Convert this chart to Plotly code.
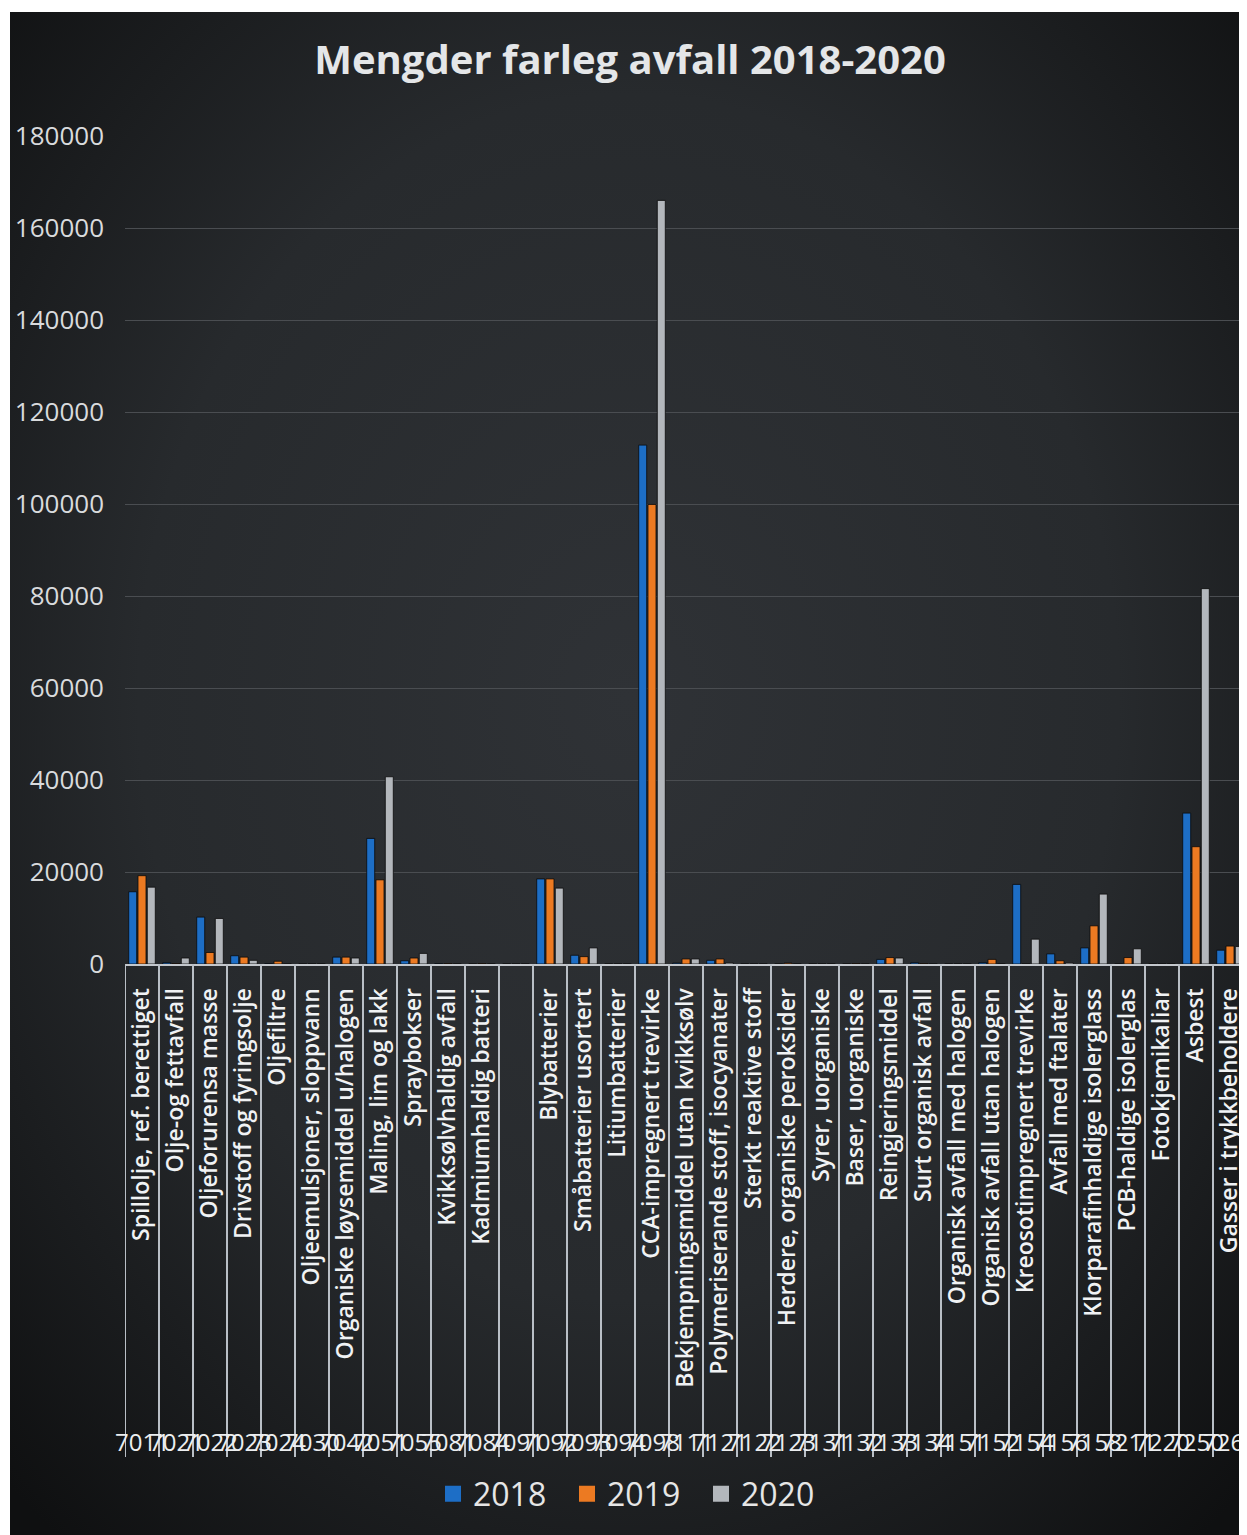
import base64
import plotly.graph_objects as go

# ---------------- data ----------------
codes = ["7011", "7021", "7022", "7023", "7024", "7030", "7042", "7051", "7055",
         "7081", "7084", "7091", "7092", "7093", "7094", "7098", "7111", "7121",
         "7122", "7123", "7131", "7132", "7133", "7134", "7151", "7152", "7154",
         "7156", "7158", "7211", "7220", "7250", "7261"]
labels = ["Spillolje, ref. berettiget", "Olje-og fettavfall", "Oljeforurensa masse",
          "Drivstoff og fyringsolje", "Oljefiltre", "Oljeemulsjoner, sloppvann",
          "Organiske løysemiddel u/halogen", "Maling, lim og lakk", "Spraybokser",
          "Kvikksølvhaldig avfall", "Kadmiumhaldig batteri", "", "Blybatterier",
          "Småbatterier usortert", "Litiumbatterier", "CCA-impregnert trevirke",
          "Bekjempningsmiddel utan kvikksølv", "Polymeriserande stoff, isocyanater",
          "Sterkt reaktive stoff", "Herdere, organiske peroksider", "Syrer, uorganiske",
          "Baser, uorganiske", "Reingjeringsmiddel", "Surt organisk avfall",
          "Organisk avfall med halogen", "Organisk avfall utan halogen",
          "Kreosotimpregnert trevirke", "Avfall med ftalater",
          "Klorparafinhaldige isolerglass", "PCB-haldige isolerglas", "Fotokjemikaliar",
          "Asbest", "Gasser i trykkbeholdere"]
v2018 = [15700, 300, 10200, 1800, 100, 0, 1500, 27300, 700, 100, 0, 0, 18500, 1900, 0,
         112800, 200, 800, 0, 0, 0, 0, 1000, 300, 0, 300, 17300, 2200, 3500, 0, 0,
         32800, 3000]
v2019 = [19200, 100, 2500, 1500, 600, 0, 1500, 18300, 1300, 100, 100, 0, 18500, 1600, 0,
         99900, 1100, 1100, 0, 200, 0, 100, 1400, 100, 0, 1000, 0, 700, 8300, 1400, 0,
         25500, 3900]
v2020 = [16700, 1300, 9900, 800, 100, 0, 1300, 40700, 2300, 0, 0, 0, 16500, 3500, 0,
         166000, 1100, 300, 0, 0, 0, 0, 1300, 0, 0, 0, 5400, 300, 15200, 3300, 0,
         81600, 3800]
years = ["2018", "2019", "2020"]
y_ticks = [0, 20000, 40000, 60000, 80000, 100000, 120000, 140000, 160000, 180000]
title_text = "Mengder farleg avfall 2018-2020"

colors = ["#1d6ec6", "#ec7a22", "#b3b7bc"]

# ---------------- geometry (page body has an 8px margin) ----------------
OFF = 8
W, H = 1247 - OFF, 1535 - OFF
ML, MR = 125 - OFF, 0
MT = 136 - OFF
MB = H - (964 - OFF)
PW, PH = W - ML - MR, H - MT - MB


def py(pix):  # reference pixel row -> paper y
    return (H - MB - (pix - OFF)) / PH


def px(pix):  # reference pixel column -> paper x
    return ((pix - OFF) - ML) / PW


FONT = "Open Sans"

fig = go.Figure()
for name, vals, col in zip(years, [v2018, v2019, v2020], colors):
    fig.add_trace(go.Bar(x=codes, y=vals, name=name, marker_color=col,
                         marker_line=dict(color="rgba(10,10,10,0.8)", width=1),
                         showlegend=False))
for name, col in zip(years, colors):
    fig.add_trace(go.Scatter(x=[None], y=[None], mode="markers", name=name,
                             marker=dict(symbol="square", size=18, color=col)))

# background with vignette
svg = (f'<svg xmlns="http://www.w3.org/2000/svg" width="{W}" height="{H}">'
       '<defs><radialGradient id="g" cx="50%" cy="45%" r="72%">'
       '<stop offset="0" stop-color="#2f3236"/>'
       '<stop offset="0.55" stop-color="#272a2d"/>'
       '<stop offset="1" stop-color="#0f1011"/>'
       '</radialGradient></defs>'
       '<rect width="100%" height="100%" fill="url(#g)"/></svg>')
src = "data:image/svg+xml;base64," + base64.b64encode(svg.encode()).decode()

shapes = []
for i in range(len(codes) + 1):
    shapes.append(dict(type="line", xref="x", yref="paper", x0=i - 0.5, x1=i - 0.5,
                       y0=0, y1=py(1457), line=dict(color="#b9bfc6", width=2),
                       layer="above"))

annotations = []
for i, c in enumerate(codes):
    annotations.append(dict(x=i, xref="x", y=py(1441), yref="paper", text=c,
                            showarrow=False, xanchor="center", yanchor="middle",
                            font=dict(family=FONT, size=24, color="#eceef0")))

fig.update_layout(
    width=W, height=H,
    margin=dict(l=ML, r=MR, t=MT, b=MB, pad=0),
    paper_bgcolor="#ffffff",
    plot_bgcolor="rgba(0,0,0,0)",
    images=[dict(source=src, xref="paper", yref="paper", x=px(10), y=py(12),
                 sizex=(1247 - 10) / PW, sizey=(1535 - 12) / PH, sizing="stretch",
                 xanchor="left", yanchor="top", layer="below")],
    title=dict(text=title_text, x=(630 - OFF) / W, xanchor="center",
               y=1 - (60 - OFF) / H, yanchor="middle",
               font=dict(family=FONT, size=40, color="#e4e6e8", weight="bold")),
    barmode="group", bargap=0.18, bargroupgap=0.14,
    xaxis=dict(type="category", tickmode="array", tickvals=codes, ticktext=labels,
               tickangle=-90, range=[-0.5, len(codes) - 0.5],
               tickfont=dict(family=FONT, size=23, color="#f0f2f4", weight=600),
               ticklabelstandoff=13, showgrid=False, showline=True,
               linecolor="#c3c7cc", linewidth=2, ticks="", automargin=False),
    yaxis=dict(range=[0, 180000], tickvals=y_ticks, tickformat="d", showgrid=True,
               gridcolor="#4a4d51", gridwidth=1, zeroline=False,
               tickfont=dict(family=FONT, size=26, color="#d9dbdd"),
               ticklabelstandoff=20, ticks="", automargin=False),
    legend=dict(orientation="h", x=px(634), xanchor="center", y=py(1494),
                yanchor="middle", font=dict(family=FONT, size=32, color="#e6e6e6"),
                bgcolor="rgba(0,0,0,0)", entrywidth=89, itemwidth=30),
    shapes=shapes,
    annotations=annotations,
)

fig.write_html("out.html")
